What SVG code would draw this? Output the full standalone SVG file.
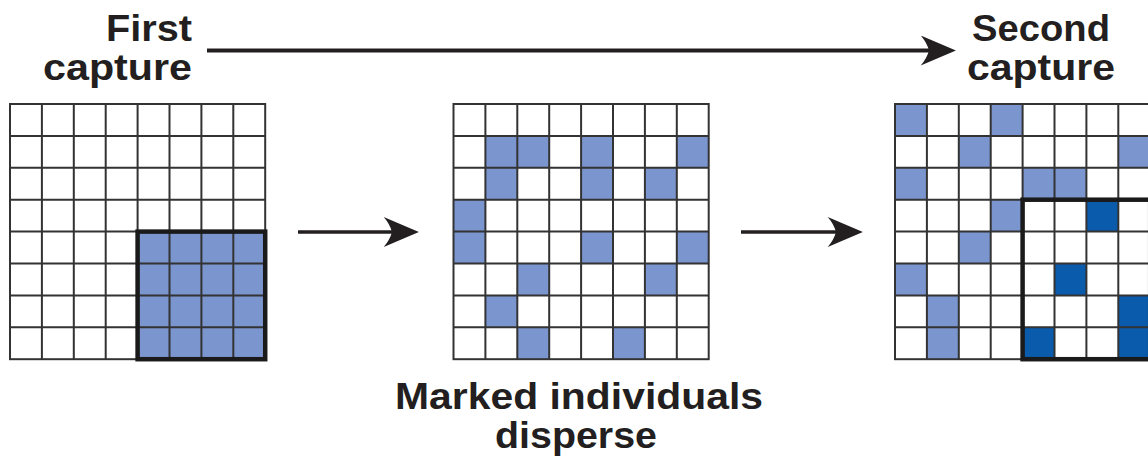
<svg xmlns="http://www.w3.org/2000/svg" width="1148" height="459" viewBox="0 0 1148 459">
<style>
.lbl{font-family:"Liberation Sans",Arial,Helvetica,sans-serif;font-weight:bold;font-size:37.5px;fill:#231f20}
.lt{fill:#7b95cf}
.dk{fill:#0a5bac}
.grid{fill:none;stroke:#333333;stroke-width:2}
.thick{fill:none;stroke:#1a1a1a;stroke-width:4.5}
.conn{stroke:#231f20;fill:none}
</style>
<defs>
<path id="gl" d="M31.9 0V255.2M63.8 0V255.2M95.7 0V255.2M127.6 0V255.2M159.5 0V255.2M191.4 0V255.2M223.3 0V255.2M0 31.9H255.2M0 63.8H255.2M0 95.7H255.2M0 127.6H255.2M0 159.5H255.2M0 191.4H255.2M0 223.3H255.2"/>
<marker id="ah" markerUnits="userSpaceOnUse" markerWidth="36" markerHeight="30" viewBox="0 0 34 29" refX="8" refY="14.5" orient="auto">
<path d="M34 14.5L0 0Q6 7 8 14.5Q6 22 0 29Z" fill="#231f20"/>
</marker>
</defs>
<rect width="1148" height="459" fill="#ffffff"/>

<g id="label-first-capture">
<text class="lbl"><tspan x="106" y="40.6" textLength="86" lengthAdjust="spacingAndGlyphs">First</tspan><tspan x="43" y="79.6" textLength="149" lengthAdjust="spacingAndGlyphs">capture</tspan></text>
</g>
<g id="label-second-capture">
<text class="lbl"><tspan x="972" y="40.6" textLength="138" lengthAdjust="spacingAndGlyphs">Second</tspan><tspan x="967" y="79.6" textLength="148" lengthAdjust="spacingAndGlyphs">capture</tspan></text>
</g>
<g id="label-disperse">
<text class="lbl"><tspan x="395" y="409" textLength="368" lengthAdjust="spacingAndGlyphs">Marked individuals</tspan><tspan x="495" y="448" textLength="162" lengthAdjust="spacingAndGlyphs">disperse</tspan></text>
</g>

<g id="grid-first" transform="translate(10,104)">
<rect x="0" y="0" width="255.2" height="255.2" fill="#ffffff"/>
<rect class="lt" x="127.6" y="127.6" width="127.6" height="127.6"/>
<use href="#gl" class="grid"/>
<rect class="grid" x="0" y="0" width="255.2" height="255.2"/>
<rect class="thick" x="127.6" y="127.6" width="127.6" height="127.6"/>
</g>

<g id="grid-dispersed" transform="translate(453.5,104)">
<rect x="0" y="0" width="255.2" height="255.2" fill="#ffffff"/>
<g class="lt">
<rect x="31.9" y="31.9" width="31.9" height="31.9"/>
<rect x="63.8" y="31.9" width="31.9" height="31.9"/>
<rect x="127.6" y="31.9" width="31.9" height="31.9"/>
<rect x="223.3" y="31.9" width="31.9" height="31.9"/>
<rect x="31.9" y="63.8" width="31.9" height="31.9"/>
<rect x="127.6" y="63.8" width="31.9" height="31.9"/>
<rect x="191.4" y="63.8" width="31.9" height="31.9"/>
<rect x="0" y="95.7" width="31.9" height="31.9"/>
<rect x="0" y="127.6" width="31.9" height="31.9"/>
<rect x="127.6" y="127.6" width="31.9" height="31.9"/>
<rect x="223.3" y="127.6" width="31.9" height="31.9"/>
<rect x="63.8" y="159.5" width="31.9" height="31.9"/>
<rect x="191.4" y="159.5" width="31.9" height="31.9"/>
<rect x="31.9" y="191.4" width="31.9" height="31.9"/>
<rect x="63.8" y="223.3" width="31.9" height="31.9"/>
<rect x="159.5" y="223.3" width="31.9" height="31.9"/>
</g>
<use href="#gl" class="grid"/>
<rect class="grid" x="0" y="0" width="255.2" height="255.2"/>
</g>

<g id="grid-second" transform="translate(895,104)">
<rect x="0" y="0" width="255.2" height="255.2" fill="#ffffff"/>
<g class="lt">
<rect x="0" y="0" width="31.9" height="31.9"/>
<rect x="95.7" y="0" width="31.9" height="31.9"/>
<rect x="63.8" y="31.9" width="31.9" height="31.9"/>
<rect x="223.3" y="31.9" width="31.9" height="31.9"/>
<rect x="0" y="63.8" width="31.9" height="31.9"/>
<rect x="127.6" y="63.8" width="31.9" height="31.9"/>
<rect x="159.5" y="63.8" width="31.9" height="31.9"/>
<rect x="95.7" y="95.7" width="31.9" height="31.9"/>
<rect x="63.8" y="127.6" width="31.9" height="31.9"/>
<rect x="0" y="159.5" width="31.9" height="31.9"/>
<rect x="31.9" y="191.4" width="31.9" height="31.9"/>
<rect x="31.9" y="223.3" width="31.9" height="31.9"/>
</g>
<g class="dk">
<rect x="191.4" y="95.7" width="31.9" height="31.9"/>
<rect x="159.5" y="159.5" width="31.9" height="31.9"/>
<rect x="223.3" y="191.4" width="31.9" height="31.9"/>
<rect x="127.6" y="223.3" width="31.9" height="31.9"/>
<rect x="223.3" y="223.3" width="31.9" height="31.9"/>
</g>
<use href="#gl" class="grid"/>
<rect class="grid" x="0" y="0" width="255.2" height="255.2"/>
<rect class="thick" x="127.6" y="95.7" width="127.6" height="159.5"/>
</g>

<g id="connectors">
<line class="conn" x1="207" y1="50.5" x2="929" y2="50.5" stroke-width="4" marker-end="url(#ah)"/>
<line class="conn" x1="298" y1="232" x2="392" y2="232" stroke-width="3.5" marker-end="url(#ah)"/>
<line class="conn" x1="741" y1="232" x2="836" y2="232" stroke-width="3.5" marker-end="url(#ah)"/>
</g>
</svg>
